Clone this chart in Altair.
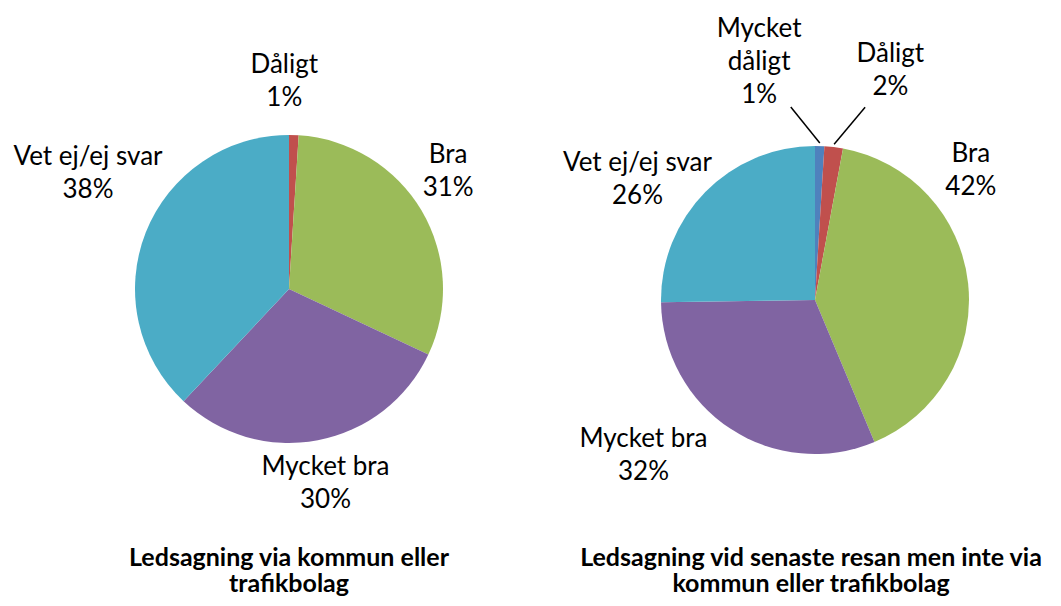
import math
import altair as alt
import pandas as pd

# ---------------- data ----------------
left_categories = ["Dåligt", "Bra", "Mycket bra", "Vet ej/ej svar"]
left_values = [1, 31, 30, 38]
left_labels = ["Dåligt\n1%", "Bra\n31%", "Mycket bra\n30%", "Vet ej/ej svar\n38%"]

right_categories = ["Mycket dåligt", "Dåligt", "Bra", "Mycket bra", "Vet ej/ej svar"]
right_values = [1, 2, 42, 32, 26]
right_labels = ["Mycket\ndåligt\n1%", "Dåligt\n2%", "Bra\n42%", "Mycket bra\n32%", "Vet ej/ej svar\n26%"]

titles = [
    "Ledsagning via kommun eller\ntrafikbolag",
    "Ledsagning vid senaste resan men inte via\nkommun eller trafikbolag",
]

category_order = ["Mycket dåligt", "Dåligt", "Bra", "Mycket bra", "Vet ej/ej svar"]
category_colors = ["#4F81BD", "#C0504D", "#9BBB59", "#8064A2", "#4BACC6"]

# ---------------- style / layout ----------------
FONT = "Lato"
LABEL_SIZE = 26
LABEL_LH = 33
TITLE_SIZE = 25
TITLE_LH = 26
R_PIE = 154
R_LAB = 200
LEFT_C = (281, 281)
RIGHT_C = (807, 292)

# label block-centre nudges (pixels) from the polar default position
left_nudge = {"Dåligt": (-11, -8), "Bra": (-13, -16), "Mycket bra": (-1, -2), "Vet ej/ej svar": (-15, -42)}
right_nudge = {"Mycket dåligt": (-62, -38), "Dåligt": (51, -31), "Bra": (-43, -108),
               "Mycket bra": (-62, -12), "Vet ej/ej svar": (-35, 20)}
leader_offset = {"Mycket dåligt": (-29, -36), "Dåligt": (31, -37)}


def pie_table(cats, vals, labels):
    total = float(sum(vals))
    frac = [v / total for v in vals]
    mids, cum = [], 0.0
    for f in frac:
        mids.append(cum + f / 2)
        cum += f
    return pd.DataFrame({"cat": cats, "value": vals, "frac": frac, "mid": mids,
                         "label": labels, "order": list(range(len(cats)))})


theta_scale = alt.Scale(domain=[0, 1])
color_scale = alt.Scale(domain=category_order, range=category_colors)


def pie_layers(df, center, nudges):
    cx, cy = center
    base = alt.Chart(df)
    arcs = base.mark_arc(radius=R_PIE).encode(
        theta=alt.Theta("frac:Q", stack=True, scale=theta_scale),
        color=alt.Color("cat:N", scale=color_scale, legend=None),
        order=alt.Order("order:Q"),
        x=alt.value(cx), y=alt.value(cy),
    )
    layers = [arcs]
    for cat, (ndx, ndy) in nudges.items():
        label = df.loc[df.cat == cat, "label"].iloc[0]
        n_lines = label.count("\n") + 1
        first_line_dy = ndy - (n_lines - 1) * LABEL_LH / 2
        layers.append(
            base.transform_filter(alt.datum.cat == cat)
            .mark_text(radius=R_LAB, dx=ndx, dy=first_line_dy, font=FONT, fontSize=LABEL_SIZE,
                       lineBreak="\n", lineHeight=LABEL_LH, align="center", baseline="middle",
                       color="black")
            .encode(theta=alt.Theta("mid:Q", stack=None, scale=theta_scale),
                    text="label:N", x=alt.value(cx), y=alt.value(cy))
        )
    return layers


left_df = pie_table(left_categories, left_values, left_labels)
right_df = pie_table(right_categories, right_values, right_labels)

layers = pie_layers(left_df, LEFT_C, left_nudge) + pie_layers(right_df, RIGHT_C, right_nudge)

# leader lines for the two tiny slices of the right pie
rows = []
for cat, (ox, oy) in leader_offset.items():
    m = float(right_df.loc[right_df.cat == cat, "mid"].iloc[0])
    a = 2 * math.pi * m
    x1 = RIGHT_C[0] + (R_PIE + 3) * math.sin(a)
    y1 = RIGHT_C[1] - (R_PIE + 3) * math.cos(a)
    rows.append({"x": x1, "y": y1, "x2": x1 + ox, "y2": y1 + oy})
leaders = alt.Chart(pd.DataFrame(rows)).mark_rule(color="black", strokeWidth=1.5).encode(
    x=alt.X("x:Q", scale=None), y=alt.Y("y:Q", scale=None),
    x2="x2:Q", y2="y2:Q",
)
layers.append(leaders)

for title, xc in zip(titles, [281, 803]):
    layers.append(
        alt.Chart(pd.DataFrame({"t": [title]}))
        .mark_text(font=FONT, fontSize=TITLE_SIZE, fontWeight="bold", lineBreak="\n",
                   lineHeight=TITLE_LH, align="center", baseline="alphabetic", color="black")
        .encode(text="t:N", x=alt.value(xc), y=alt.value(558))
    )

chart = alt.layer(*layers).properties(
    width=1045, height=590, padding=0,
    autosize=alt.AutoSizeParams(type="fit", contains="padding"),
).configure(background="white", view=alt.ViewConfig(strokeWidth=0, stroke=None))

chart.save("out.html", embed_options={"renderer": "svg", "actions": False})
